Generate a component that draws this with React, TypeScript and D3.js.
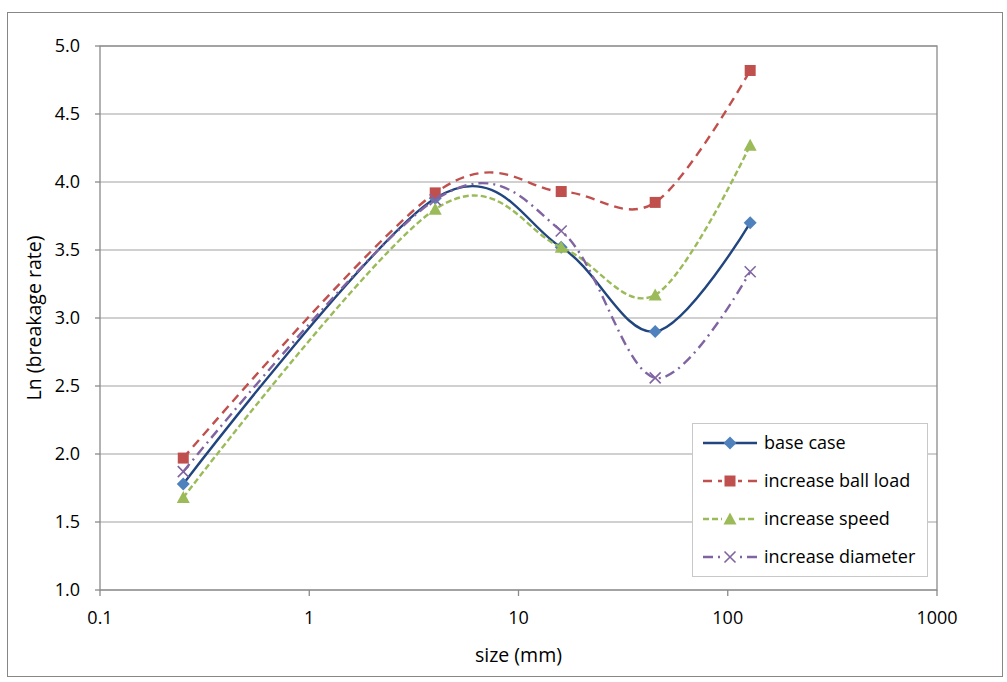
import * as d3 from 'd3';

// particle size classes (mm)
const sizes = [0.25, 4, 16, 45, 128];

const baseCase = [1.78, 3.88, 3.52, 2.9, 3.7];
const ballLoad = [1.97, 3.92, 3.93, 3.85, 4.82];
const speed = [1.68, 3.8, 3.52, 3.17, 4.27];
const diameter = [1.87, 3.87, 3.64, 2.56, 3.34];

const yTicks = [1.0, 1.5, 2.0, 2.5, 3.0, 3.5, 4.0, 4.5, 5.0];
const xTicks = [0.1, 1, 10, 100, 1000];
const seriesNames = ['base case', 'increase ball load', 'increase speed', 'increase diameter'];

type Marker = 'diamond' | 'square' | 'triangle' | 'cross';

const series = [
  { name: seriesNames[0], values: baseCase, line: '#21457f', fill: '#4f81bd', dash: '', marker: 'diamond' as Marker },
  { name: seriesNames[1], values: ballLoad, line: '#c0504d', fill: '#c0504d', dash: '9,6', marker: 'square' as Marker },
  { name: seriesNames[2], values: speed, line: '#9bbb59', fill: '#9bbb59', dash: '6,3', marker: 'triangle' as Marker },
  { name: seriesNames[3], values: diameter, line: '#8064a2', fill: '#8064a2', dash: '10,5,2,5', marker: 'cross' as Marker },
];

const W = 1007;
const H = 682;
const plot = { left: 100, top: 46, right: 937, bottom: 590 };
const font = '"Open Sans", Lato, sans-serif';

function MarkerShape({ kind, x, y, color }: { kind: Marker; x: number; y: number; color: string }) {
  if (kind === 'diamond') {
    const r = 6.5;
    return <path d={`M${x},${y - r}L${x + r},${y}L${x},${y + r}L${x - r},${y}Z`} fill={color} />;
  }
  if (kind === 'square') {
    return <rect x={x - 5.5} y={y - 5.5} width={11} height={11} fill={color} />;
  }
  if (kind === 'triangle') {
    return <path d={`M${x},${y - 6.5}L${x + 6.5},${y + 5.5}L${x - 6.5},${y + 5.5}Z`} fill={color} />;
  }
  const r = 5.5;
  return (
    <path d={`M${x - r},${y - r}L${x + r},${y + r}M${x - r},${y + r}L${x + r},${y - r}`}
      stroke={color} strokeWidth={1.6} fill="none" />
  );
}

export default function App() {
  const x = d3.scaleLog().domain([0.1, 1000]).range([plot.left, plot.right]);
  const y = d3.scaleLinear().domain([1, 5]).range([plot.bottom, plot.top]);

  const line = d3.line<[number, number]>()
    .x((d) => x(d[0]))
    .y((d) => y(d[1]))
    .curve(d3.curveCatmullRom.alpha(0));

  const legend = { left: 692, top: 423, width: 235, height: 153 };

  return (
    <svg width={W} height={H} style={{ position: 'absolute', left: 0, top: 0 }} fontFamily={font}>
      <rect x={0} y={0} width={W} height={H} fill="#fff" />
      <rect x={7.5} y={12.5} width={995} height={664} fill="none" stroke="#878787" strokeWidth={1} />

      {/* gridlines */}
      {yTicks.map((t) => (
        <line key={t} x1={plot.left} x2={plot.right} y1={y(t)} y2={y(t)} stroke="#c0c0c0" strokeWidth={1.3} />
      ))}

      {/* plot border and axes */}
      <rect x={plot.left} y={plot.top} width={plot.right - plot.left} height={plot.bottom - plot.top}
        fill="none" stroke="#8a8a8a" strokeWidth={1.3} />
      {yTicks.map((t) => (
        <g key={t}>
          <line x1={plot.left - 5} x2={plot.left} y1={y(t)} y2={y(t)} stroke="#8a8a8a" strokeWidth={1.3} />
          <text x={80} y={y(t)} dy="0.35em" textAnchor="end" fontSize={18} fill="#000">{t.toFixed(1)}</text>
        </g>
      ))}
      {xTicks.map((t) => (
        <g key={t}>
          <line x1={x(t)} x2={x(t)} y1={plot.bottom} y2={plot.bottom + 6} stroke="#8a8a8a" strokeWidth={1.3} />
          <text x={x(t)} y={618} dy="0.35em" textAnchor="middle" fontSize={18} fill="#000">{String(t)}</text>
        </g>
      ))}

      <text x={(plot.left + plot.right) / 2} y={655} dy="0.35em" textAnchor="middle" fontSize={19.5}>size (mm)</text>
      <text transform={`translate(34,${(plot.top + plot.bottom) / 2}) rotate(-90)`} dy="0.35em"
        textAnchor="middle" fontSize={19.5}>Ln (breakage rate)</text>

      {/* series */}
      {series.map((s) => {
        const pts = sizes.map((v, i) => [v, s.values[i]] as [number, number]);
        return (
          <g key={s.name}>
            <path d={line(pts) ?? ''} fill="none" stroke={s.line} strokeWidth={2.4}
              strokeDasharray={s.dash || undefined} />
            {pts.map((p, i) => (
              <MarkerShape key={i} kind={s.marker} x={x(p[0])} y={y(p[1])} color={s.fill} />
            ))}
          </g>
        );
      })}

      {/* legend */}
      <rect x={legend.left + 0.5} y={legend.top + 0.5} width={legend.width} height={legend.height}
        fill="#fff" stroke="#c8c8c8" strokeWidth={1} />
      {series.map((s, i) => {
        const ly = 443 + i * 38;
        return (
          <g key={s.name}>
            <line x1={703} x2={757} y1={ly} y2={ly} stroke={s.line} strokeWidth={2.4}
              strokeDasharray={s.dash || undefined} />
            <rect x={722} y={ly - 7} width={16} height={14} fill="#fff" opacity={s.dash ? 1 : 0} />
            <MarkerShape kind={s.marker} x={730} y={ly} color={s.fill} />
            <text x={764} y={ly} dy="0.35em" fontSize={18}>{s.name}</text>
          </g>
        );
      })}
    </svg>
  );
}
